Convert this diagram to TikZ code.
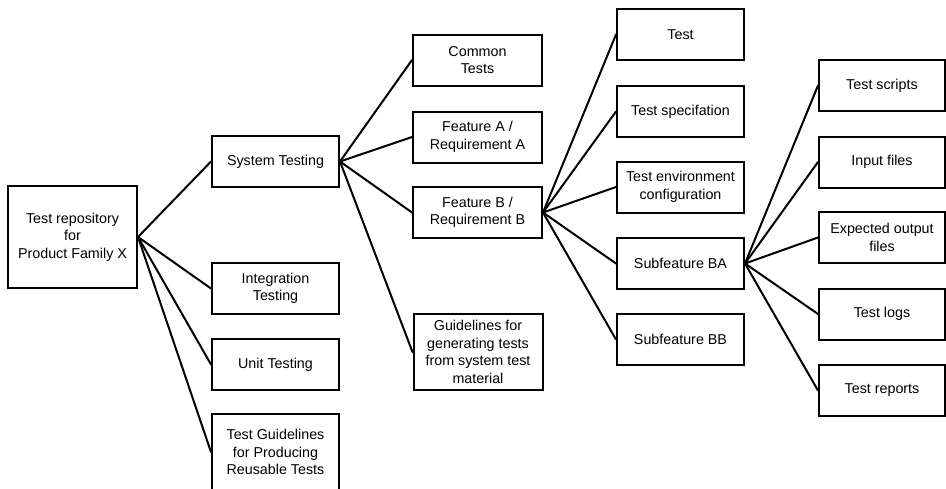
\documentclass[tikz,border=0pt]{standalone}
\usepackage{fontspec}
\setmainfont{Liberation Sans}
\begin{document}
\begin{tikzpicture}[x=1pt,y=-1pt,
  box/.style={draw=black, line width=2pt, fill=white, align=center, inner sep=0pt,
    minimum width=127pt, minimum height=51pt,
    font=\fontsize{14.3pt}{17.5pt}\selectfont},
  link/.style={line width=2pt, line cap=round}]
\useasboundingbox (0,0) rectangle (946,488);

% column 1
\node[box, minimum width=129pt, minimum height=102pt] (root) at (72.5,237) {Test repository\\for\\Product Family X};

% column 2
\node[box] (sys)   at (275.5,161.5) {System Testing};
\node[box] (integ) at (275.5,288.5) {Integration\\Testing};
\node[box] (unit)  at (275.5,364.5) {Unit Testing};
% this box runs past the lower edge of the page
\node[box, minimum height=76pt] (tguide) at (275.5,452)
  {Test Guidelines\\for Producing\\Reusable Tests};

% column 3
\node[box, minimum width=129pt] (common) at (477.5,60)    {Common\\Tests};
\node[box, minimum width=129pt] (feata)  at (477.5,137)   {Feature A /\\Requirement A};
\node[box, minimum width=129pt] (featb)  at (477.5,212.5) {Feature B /\\Requirement B};
\node[box, minimum width=129pt, minimum height=76pt] (gengd) at (478,352)
  {Guidelines for\\generating tests\\from system test\\material};

% column 4
\node[box] (test)  at (680.5,34.5)  {Test};
\node[box] (spec)  at (680.5,111.5) {Test specifation};
\node[box] (env)   at (680.5,187)   {Test environment\\configuration};
\node[box] (subba) at (680.5,263.5) {Subfeature BA};
\node[box] (subbb) at (680.5,339.5) {Subfeature BB};

% column 5
\node[box, minimum width=126pt] (scripts)  at (882,85.5)  {Test scripts};
\node[box, minimum width=126pt] (inputs)   at (882,162)   {Input files};
\node[box, minimum width=126pt] (expected) at (882,237.5) {Expected output\\files};
\node[box, minimum width=126pt] (logs)     at (882,314)   {Test logs};
\node[box, minimum width=126pt] (reports)  at (882,390.5) {Test reports};

% connectors
\foreach \c in {sys,integ,unit,tguide}
  \draw[link] (root.east) -- (\c.west);
\foreach \c in {common,feata,featb,gengd}
  \draw[link] (sys.east) -- (\c.west);
\foreach \c in {test,spec,env,subba,subbb}
  \draw[link] (featb.east) -- (\c.west);
\foreach \c in {scripts,inputs,expected,logs,reports}
  \draw[link] (subba.east) -- (\c.west);
\end{tikzpicture}
\end{document}
